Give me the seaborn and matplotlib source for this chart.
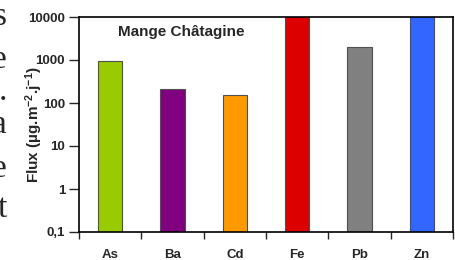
"""
Flux bar chart (log scale) for the Mange Chatagine site.
"""

import matplotlib
matplotlib.use('Agg')
import matplotlib.pyplot as plt
import pandas as pd
import seaborn as sns

# data
elements = ['As', 'Ba', 'Cd', 'Fe', 'Pb', 'Zn']
flux = [950, 210, 150, 20000, 1970, 15000]  # Fe and Zn go past the top of the axis
bar_colors = ['#99cc00', '#800080', '#ff9900', '#dd0000', '#808080', '#3366ff']
y_ticks = [0.1, 1, 10, 100, 1000, 10000]
y_tick_labels = ['0,1', '1', '10', '100', '1000', '10000']
title = 'Mange Châtagine'
y_label = 'Flux (µg.m$^{-2}$.j$^{-1}$)'

# clipped letters of the page text that sits left of the chart
side_letters = ['s', 'e', '.', 'a', 'e', 't']
side_baselines = [25, 68, 100, 133, 177, 217]


def plot_flux(out_path: str):
    sns.set_style('white')
    plt.rcParams['font.family'] = ['Liberation Sans', 'DejaVu Sans']
    plt.rcParams['font.weight'] = 'bold'
    plt.rcParams['mathtext.fontset'] = 'custom'
    plt.rcParams['mathtext.rm'] = 'Liberation Sans:bold'
    plt.rcParams['mathtext.it'] = 'Liberation Sans:bold'
    plt.rcParams['mathtext.bf'] = 'Liberation Sans:bold'

    df = pd.DataFrame({'element': elements, 'flux': flux})

    fig = plt.figure(figsize=(4.56, 2.60), dpi=100)
    ax = fig.add_axes([79 / 456, 28 / 260, 374 / 456, 215 / 260])
    ax.set_yscale('log')
    sns.barplot(
        data=df, x='element', y='flux', hue='element',
        palette=bar_colors, legend=False, width=0.39,
        edgecolor='#505050', linewidth=0.8, saturation=1, ax=ax,
    )
    ax.set_ylim(0.1, 10000)
    ax.set_xlim(-0.5, len(elements) - 0.5)

    # y axis
    ax.set_yticks(y_ticks)
    ax.set_yticklabels(y_tick_labels)
    ax.minorticks_off()
    ax.tick_params(axis='y', which='major', direction='out', length=7, width=1,
                   labelsize=9.5, pad=3, left=True)

    # x axis: ticks on the category boundaries, names in between
    ax.set_xticks([i - 0.5 for i in range(len(elements) + 1)])
    ax.set_xticklabels([''] * (len(elements) + 1))
    ax.set_xticks(range(len(elements)), minor=True)
    ax.set_xticklabels(elements, minor=True)
    ax.tick_params(axis='x', which='major', direction='out', length=5, width=1, bottom=True)
    ax.tick_params(axis='x', which='minor', length=0, labelsize=9.5, pad=12)

    ax.set_xlabel('')
    ax.set_ylabel(y_label, fontsize=11, fontweight='bold')
    ax.yaxis.set_label_coords(-0.092, 0.5)

    for side in ax.spines.values():
        side.set_visible(True)
        side.set_color('black')
        side.set_linewidth(1.2)

    ax.text(0.104, 0.93, title, transform=ax.transAxes, fontsize=11,
            fontweight='bold', va='center', ha='left')

    for letter, base in zip(side_letters, side_baselines):
        fig.text(7 / 456, 1 - base / 260, letter, family='Liberation Serif',
                 fontsize=24, fontweight='normal', ha='right', va='baseline')

    fig.savefig(out_path, dpi=100)


if __name__ == '__main__':
    plot_flux('out.png')
